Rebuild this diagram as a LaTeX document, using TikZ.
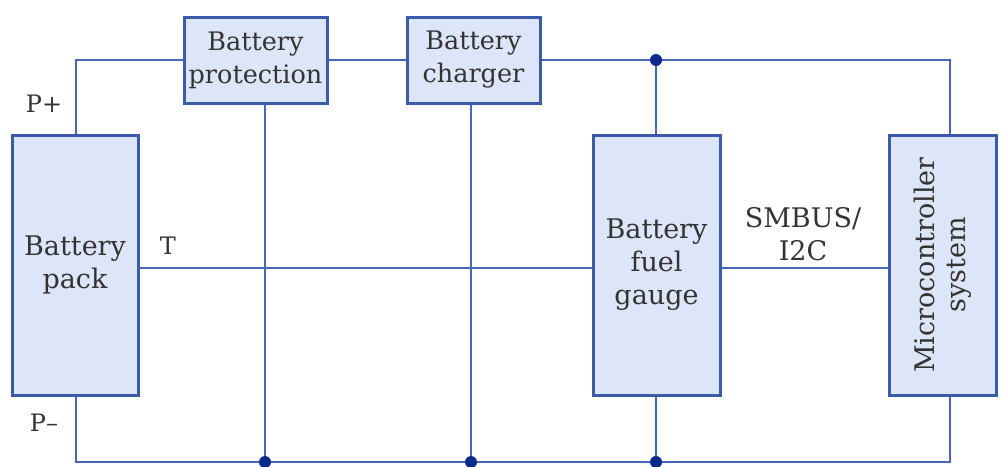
\documentclass[tikz,border=0pt]{standalone}
\usepackage{fontspec}
\setmainfont{DejaVu Serif}
\definecolor{boxfill}{HTML}{DDE6F8}
\definecolor{boxline}{HTML}{3B5AA8}
\definecolor{wire}{HTML}{4A66B8}
\definecolor{dotc}{HTML}{0B2A8C}
\definecolor{txt}{HTML}{333333}
\begin{document}
\begin{tikzpicture}[x=1pt,y=-1pt,
  blk/.style={draw=boxline,line width=3pt,fill=boxfill,inner sep=0pt,align=center,
    text=txt,font=\fontsize{27}{33}\selectfont},
  topblk/.style={blk,font=\fontsize{25.5}{33}\selectfont},
  wr/.style={draw=wire,line width=2.3pt},
  jdot/.style={circle,fill=dotc,inner sep=0pt,minimum size=12pt},
  lbl/.style={text=txt,font=\fontsize{24}{33}\selectfont,inner sep=0pt,align=center}]
\useasboundingbox (0,0) rectangle (1006,466);
% coordinates
\coordinate (tl) at (76,60);
\coordinate (tr) at (950,60);
\coordinate (bl) at (76,462);
\coordinate (br) at (950,462);
% wires first
\draw[wr] (76,135) -- (tl) -- (184,60);
\draw[wr] (327,60) -- (407,60);
\draw[wr] (540,60) -- (tr) -- (950,135);
\draw[wr] (656,60) -- (656,135);
\draw[wr] (76,395) -- (bl) -- (br) -- (950,395);
\draw[wr] (265,103) -- (265,462);
\draw[wr] (471,103) -- (471,462);
\draw[wr] (656,395) -- (656,462);
\draw[wr] (138,268) -- (593,268);
\draw[wr] (720,268) -- (888,268);
% blocks
\node[blk,minimum width=126pt,minimum height=260pt] (pack) at (75,265) {Battery\\pack};
\node[topblk,minimum width=143pt,minimum height=86pt] (prot) at (255.5,60) {Battery\\protection};
\node[topblk,minimum width=133pt,minimum height=86pt] (chg) at (473.5,60) {Battery\\charger};
\node[blk,minimum width=127pt,minimum height=260pt] (fg) at (656.5,265) {Battery\\fuel\\gauge};
\node[blk,minimum width=107pt,minimum height=260pt] (mcu) at (943,265) {\rotatebox{90}{\begin{tabular}{@{}c@{}}Microcontroller\\[-2pt]system\end{tabular}}};
% dots
\node[jdot] (d1) at (656,60) {};
\node[jdot] (d2) at (265,462) {};
\node[jdot] (d3) at (471,462) {};
\node[jdot] (d4) at (656,462) {};
% labels
\node[lbl] (pp) at (44,104) {P+};
\node[lbl] (pm) at (44,423) {P–};
\node[lbl] (t) at (168,246) {T};
\node[lbl,font=\fontsize{27}{33}\selectfont] (sm) at (803,234) {SMBUS/\\I2C};
\end{tikzpicture}
\end{document}
